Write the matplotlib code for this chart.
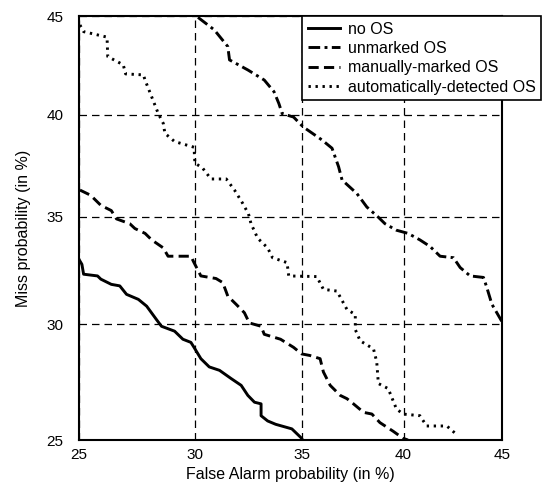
import math
import numpy as np
import matplotlib
matplotlib.use('Agg')
import matplotlib.pyplot as plt
from matplotlib.ticker import FixedLocator, NullLocator

plt.rcParams['font.family'] = ['Liberation Sans', 'DejaVu Sans']

# ── 数据（单位：%） ─────────────────────────────────────────────────────────
no_os_fa = [25.0, 25.12, 25.19, 25.77, 25.91, 26.35, 26.71, 27.0, 27.51, 27.87,
            28.30, 28.52, 29.10, 29.47, 29.83, 29.97, 30.28, 30.66, 31.13, 31.67,
            32.13, 32.44, 32.75, 33.06, 33.06, 33.37, 33.75, 34.52, 34.99, 35.03]
no_os_miss = [32.97, 32.74, 32.28, 32.20, 32.05, 31.81, 31.74, 31.35, 31.12, 30.81,
              30.20, 29.90, 29.68, 29.32, 29.18, 28.96, 28.46, 28.10, 27.95, 27.59,
              27.30, 26.87, 26.58, 26.51, 26.01, 25.79, 25.65, 25.46, 25.07, 25.0]

unmarked_fa = [30.15, 30.89, 31.51, 31.59, 32.44, 33.21, 33.67, 33.90, 34.06, 34.60,
               35.06, 35.97, 36.46, 36.78, 36.95, 37.68, 38.17, 38.74, 39.07, 39.64,
               40.22, 40.82, 41.33, 41.84, 42.52, 42.86, 43.37, 44.05, 44.22, 44.48, 44.99]
unmarked_miss = [44.93, 44.29, 43.44, 42.76, 42.25, 41.74, 41.15, 40.56, 40.05, 39.88,
                 39.39, 38.74, 38.33, 37.42, 36.77, 36.11, 35.46, 34.97, 34.66, 34.35,
                 34.20, 33.89, 33.58, 33.12, 33.05, 32.59, 32.20, 32.13, 31.67, 30.90, 30.12]

manual_fa = [25.04, 25.48, 25.91, 26.35, 26.57, 27.14, 27.36, 27.80, 28.09, 28.60,
             28.81, 29.83, 29.97, 30.28, 30.97, 31.28, 31.51, 31.90, 32.28, 32.51,
             33.06, 33.21, 33.98, 34.60, 34.99, 35.39, 35.88, 36.04, 36.37, 36.86,
             37.19, 37.51, 38.01, 38.42, 38.82, 39.48, 39.97, 40.22]
manual_miss = [36.28, 36.03, 35.54, 35.29, 34.89, 34.66, 34.43, 34.20, 33.89, 33.51,
               33.12, 33.12, 32.82, 32.20, 32.08, 31.89, 31.27, 30.89, 30.51, 30.05,
               29.90, 29.54, 29.32, 28.96, 28.67, 28.60, 28.46, 27.88, 27.30, 26.87,
               26.73, 26.51, 26.15, 26.08, 25.72, 25.36, 25.07, 25.0]

auto_fa = [25.04, 25.19, 26.17, 26.20, 26.86, 26.96, 27.73, 27.80, 28.38, 28.60,
           28.67, 29.10, 29.97, 30.01, 30.36, 30.74, 31.44, 31.82, 32.21, 32.47,
           32.59, 32.90, 33.37, 33.60, 34.29, 34.37, 35.72, 36.04, 36.70, 37.19,
           37.60, 37.60, 37.84, 38.50, 38.66, 38.74, 39.23, 39.64, 39.97, 40.82,
           41.16, 42.18, 42.69]
auto_miss = [44.54, 44.20, 43.92, 42.93, 42.51, 42.05, 42.00, 41.74, 40.05, 39.56,
             39.07, 38.66, 38.38, 37.60, 37.35, 36.82, 36.82, 36.28, 35.62, 35.13,
             34.66, 33.97, 33.51, 33.05, 32.82, 32.20, 32.17, 31.58, 31.50, 30.66,
             30.43, 29.75, 29.25, 28.89, 28.32, 27.38, 27.16, 26.30, 26.08, 26.01,
             25.58, 25.58, 25.22]

ticks = [25, 30, 35, 40, 45]
labels = ['no OS', 'unmarked OS', 'manually-marked OS', 'automatically-detected OS']


# ── 正态偏差刻度（DET 曲线） ───────────────────────────────────────────────
def _ppf(p):
    # Acklam 逆正态分布近似
    a = [-3.969683028665376e+01, 2.209460984245205e+02, -2.759285104469687e+02,
         1.383577518672690e+02, -3.066479806614716e+01, 2.506628277459239e+00]
    b = [-5.447609879822406e+01, 1.615858368580409e+02, -1.556989798598866e+02,
         6.680131188771972e+01, -1.328068155288572e+01]
    c = [-7.784894002430293e-03, -3.223964580411365e-01, -2.400758277161838e+00,
         -2.549732539343734e+00, 4.374664141464968e+00, 2.938163982698783e+00]
    d = [7.784695709041462e-03, 3.224671290700398e-01, 2.445134137142996e+00,
         3.754408661907416e+00]
    p = np.clip(np.asarray(p, dtype=float), 1e-9, 1 - 1e-9)
    out = np.empty_like(p)
    lo = p < 0.02425
    hi = p > 1 - 0.02425
    mid = ~(lo | hi)
    q = np.sqrt(-2 * np.log(p[lo]))
    out[lo] = (((((c[0]*q+c[1])*q+c[2])*q+c[3])*q+c[4])*q+c[5]) / \
              ((((d[0]*q+d[1])*q+d[2])*q+d[3])*q+1)
    q = np.sqrt(-2 * np.log(1 - p[hi]))
    out[hi] = -(((((c[0]*q+c[1])*q+c[2])*q+c[3])*q+c[4])*q+c[5]) / \
               ((((d[0]*q+d[1])*q+d[2])*q+d[3])*q+1)
    q = p[mid] - 0.5
    r = q * q
    out[mid] = (((((a[0]*r+a[1])*r+a[2])*r+a[3])*r+a[4])*r+a[5])*q / \
               (((((b[0]*r+b[1])*r+b[2])*r+b[3])*r+b[4])*r+1)
    return out


_erf = np.vectorize(math.erf)


def forward(x):
    return _ppf(np.asarray(x, dtype=float) / 100.0)


def inverse(z):
    return 50.0 * (1 + _erf(np.asarray(z, dtype=float) / math.sqrt(2)))


fig = plt.figure(figsize=(5.42, 4.82), dpi=100)
ax = fig.add_axes([79 / 542, 1 - 440 / 482, 423 / 542, 424 / 482])
ax.set_xscale('function', functions=(forward, inverse))
ax.set_yscale('function', functions=(forward, inverse))

lw = 2.1
ax.plot(no_os_fa, no_os_miss, color='black', lw=lw, ls='-', label=labels[0])
ax.plot(unmarked_fa, unmarked_miss, color='black', lw=lw,
        ls=(0, (4, 1.5, 1, 1.5)), label=labels[1])
ax.plot(manual_fa, manual_miss, color='black', lw=lw,
        ls=(0, (3.5, 1.8)), label=labels[2])
ax.plot(auto_fa, auto_miss, color='black', lw=lw,
        ls=(0, (0.8, 1.6)), label=labels[3])

ax.set_xlim(25, 45)
ax.set_ylim(25, 45)
for axis in (ax.xaxis, ax.yaxis):
    axis.set_major_locator(FixedLocator(ticks))
    axis.set_minor_locator(NullLocator())
ax.set_xticklabels([str(t) for t in ticks])
ax.set_yticklabels([str(t) for t in ticks])
ax.tick_params(axis='both', length=0, labelsize=11)
ax.tick_params(axis='x', pad=6)
ax.tick_params(axis='y', pad=11)
ax.grid(True, color='black', lw=0.9, ls=(0, (6, 4)))
for s in ax.spines.values():
    s.set_linewidth(1.5)

ax.set_xlabel('False Alarm probability (in %)', fontsize=11.5, labelpad=3)
ax.set_ylabel('Miss probability (in %)', fontsize=11.5, labelpad=11)

leg = ax.legend(loc='upper left', bbox_to_anchor=(302 / 542, 1 - 16 / 482),
                bbox_transform=fig.transFigure, fontsize=11.5, frameon=True,
                fancybox=False, handlelength=2.0, handletextpad=0.5,
                labelspacing=0.27, borderpad=0.35, borderaxespad=0)
leg.get_frame().set_edgecolor('black')
leg.get_frame().set_linewidth(1.2)
leg.get_frame().set_alpha(1)

fig.savefig('out.png', dpi=100)
